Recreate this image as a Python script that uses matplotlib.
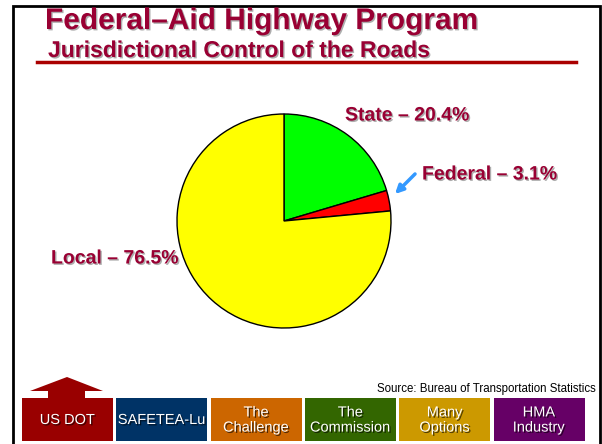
import matplotlib
matplotlib.use("Agg")
import matplotlib.pyplot as plt
import matplotlib.patheffects as pe
from matplotlib.patches import Rectangle, Polygon

plt.rcParams["font.family"] = ["Liberation Sans", "DejaVu Sans"]

# data
shares = [20.4, 3.1, 76.5]
owners = ["State", "Federal", "Local"]
slice_colors = ["#00FF00", "#FF0000", "#FFFF00"]

nav_labels = ["US DOT", "SAFETEA-Lu", "The\nChallenge", "The\nCommission", "Many\nOptions", "HMA\nIndustry"]
nav_colors = ["#990000", "#003366", "#CC6600", "#336600", "#CC9900", "#660066"]

W, H = 602, 444
DARK_RED = "#990033"
shadow = [pe.SimplePatchShadow(offset=(1, -1), shadow_rgbFace="#999999", alpha=0.8), pe.Normal()]
btn_shadow = [pe.SimplePatchShadow(offset=(1, -1), shadow_rgbFace="black", alpha=0.6), pe.Normal()]

fig = plt.figure(figsize=(W / 100, H / 100), dpi=100)

# overlay axes in pixel units (y down)
ov = fig.add_axes([0, 0, 1, 1])
ov.set_xlim(0, W)
ov.set_ylim(H, 0)
ov.axis("off")

# slide frame
ov.plot([13, 13, 600, 600], [H + 5, 6, 6, H + 5], color="black", lw=2, solid_joinstyle="miter")

# titles
ov.text(45, 21, "Federal\u2013Aid Highway Program", fontsize=21.5, fontweight="bold",
        color=DARK_RED, va="center", ha="left", path_effects=shadow)
ov.text(48, 50.5, "Jurisdictional Control of the Roads", fontsize=16.5, fontweight="bold",
        color=DARK_RED, va="center", ha="left", path_effects=shadow)
ov.plot([37, 576], [62, 62], color="#AA0000", lw=2.5)

# pie
cx, cy, r = 284, 221, 107
pax = fig.add_axes([(cx - r) / W, (H - cy - r) / H, 2 * r / W, 2 * r / H])
pax.pie(shares, colors=slice_colors, startangle=90, counterclock=False,
        wedgeprops=dict(edgecolor="black", linewidth=1))
pax.set_xlim(-1, 1)
pax.set_ylim(-1, 1)

# slice labels
label_pos = [(345, 116, "left"), (422, 175, "left"), (179, 259, "right")]
for name, val, (x, y, ha) in zip(owners, shares, label_pos):
    ov.text(x, y, f"{name} \u2013 {val}%", fontsize=14, fontweight="bold", color=DARK_RED,
            ha=ha, va="center", path_effects=shadow)

ov.annotate("", xy=(393, 196), xytext=(417, 172),
            arrowprops=dict(arrowstyle="-|>", color="#3399FF", lw=2.5, mutation_scale=12))

# source note
ov.text(596, 389, "Source: Bureau of Transportation Statistics", fontsize=8.3,
        ha="right", va="center", color="black")

# navigation buttons
bx0, bw, gap, by, bh = 22, 91, 3.3, 398, 43
for i, (lab, col) in enumerate(zip(nav_labels, nav_colors)):
    x = bx0 + i * (bw + gap)
    ov.add_patch(Rectangle((x, by), bw, bh, facecolor=col, edgecolor="none", zorder=2))
    ov.text(x + bw / 2, by + bh / 2 + 0.5, lab, fontsize=10.5, color="white", ha="center",
            va="center", linespacing=1.1, zorder=3, path_effects=btn_shadow)

# up arrow over US DOT
ov.add_patch(Polygon([(48, 398), (48, 391), (30, 391), (67, 377), (103, 391), (85, 391), (85, 398)],
                     closed=True, facecolor="#990000", edgecolor="none", zorder=2))

fig.savefig("out.png", dpi=100)
